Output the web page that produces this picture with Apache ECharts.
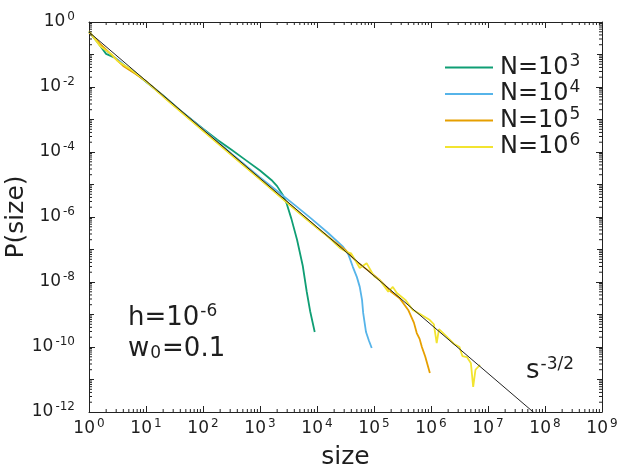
<!DOCTYPE html>
<html><head><meta charset="utf-8">
<script src="https://cdn.jsdelivr.net/npm/echarts@6/dist/echarts.min.js"></script>
<style>html,body{margin:0;padding:0;background:#fff}#c{width:625px;height:469px}</style>
</head><body><div id="c"></div>
<script>
// ---- data (log10 of size, log10 of P(size)) ----
const seriesNames = ['N=10^3', 'N=10^4', 'N=10^5', 'N=10^6'];
const legendBase = ['N=10', 'N=10', 'N=10', 'N=10'];
const legendExp = ['3', '4', '5', '6'];

const n3LogSize = [0, 0.15, 0.3, 0.45, 0.6, 0.8, 1.0, 1.3, 1.6, 2.0, 2.25, 2.5, 2.75, 3.0, 3.2, 3.3, 3.4, 3.47, 3.55, 3.65, 3.75, 3.82, 3.88, 3.96];
const n3LogP    = [-0.30, -0.62, -0.98, -1.10, -1.32, -1.55, -1.84, -2.26, -2.72, -3.28, -3.62, -3.93, -4.25, -4.57, -4.86, -5.05, -5.32, -5.6, -6.05, -6.7, -7.5, -8.3, -8.9, -9.54];

const n4LogSize = [0, 0.2, 0.4, 0.55, 0.7, 0.85, 1.0, 1.2, 1.6, 2.0, 2.5, 3.0, 3.3, 3.6, 3.9, 4.2, 4.46, 4.55, 4.63, 4.7, 4.75, 4.79, 4.81, 4.86, 4.91, 4.96];
const n4LogP    = [-0.30, -0.72, -1.02, -1.22, -1.45, -1.62, -1.83, -2.12, -2.72, -3.30, -4.05, -4.78, -5.2, -5.62, -6.05, -6.5, -6.92, -7.15, -7.54, -7.85, -8.15, -8.55, -8.95, -9.54, -9.8, -10.03];

const n5LogSize = [0, 0.2, 0.4, 0.6, 0.8, 1.0, 1.5, 2.0, 2.5, 3.0, 3.5, 4.0, 4.3, 4.5, 4.7, 4.9, 5.1, 5.3, 5.45, 5.6, 5.7, 5.75, 5.8, 5.84, 5.9, 5.98];
const n5LogP    = [-0.32, -0.68, -1.02, -1.35, -1.58, -1.82, -2.58, -3.33, -4.08, -4.83, -5.58, -6.33, -6.75, -7.02, -7.38, -7.65, -7.94, -8.3, -8.5, -8.86, -9.25, -9.57, -9.75, -10.0, -10.3, -10.8];

const n6LogSize = [0, 0.2, 0.4, 0.5, 0.7, 0.9, 1.1, 1.4, 1.8, 2.2, 2.6, 3.0, 3.4, 3.8, 4.2, 4.4, 4.52, 4.6, 4.75, 4.87, 5.0, 5.1, 5.25, 5.33, 5.4, 5.55, 5.68, 5.8, 5.98, 6.05, 6.1, 6.14, 6.28, 6.4, 6.5, 6.55, 6.63, 6.7, 6.74, 6.78, 6.86];
const n6LogP    = [-0.28, -0.75, -1.0, -1.2, -1.42, -1.68, -1.98, -2.45, -3.05, -3.65, -4.25, -4.84, -5.45, -6.05, -6.62, -6.95, -7.08, -7.12, -7.57, -7.42, -7.82, -7.94, -8.3, -8.15, -8.34, -8.55, -8.86, -8.98, -9.17, -9.3, -9.88, -9.45, -9.69, -9.9, -10.0, -10.28, -10.31, -10.5, -11.23, -10.7, -10.55];

// reference power law s^-3/2 (two end points)
const refSizes = [1, 1e8];
const refP = [0.49, 4.9e-13];

const xTickExponents = [0, 1, 2, 3, 4, 5, 6, 7, 8, 9];
const yTickExponents = [-12, -10, -8, -6, -4, -2, 0];
const minorMultipliers = [2, 3, 4, 5, 6, 7, 8, 9];

const colors = ['#0F9E74', '#56B4E9', '#E69F00', '#F2E430'];
const FONT = 'DejaVu Sans';
const INK = '#1e1e1e';

function toPairs(lx, ly) { return lx.map((v, i) => [Math.pow(10, v), Math.pow(10, ly[i])]); }
const allLogSize = [n3LogSize, n4LogSize, n5LogSize, n6LogSize];
const allLogP = [n3LogP, n4LogP, n5LogP, n6LogP];

const chart = echarts.init(document.getElementById('c'), null, { renderer: 'canvas' });

const tickRich = {
  b: { fontSize: 17, fontFamily: FONT, color: INK },
  s: { fontSize: 12, fontFamily: FONT, color: INK, padding: [0, 0, 10, 2] }
};
function expLabel(v) { return '{b|10}{s|' + Math.round(Math.log10(v)) + '}'; }

const xMin = Math.pow(10, xTickExponents[0]), xMax = Math.pow(10, xTickExponents[xTickExponents.length - 1]);
const yMin = Math.pow(10, yTickExponents[0]), yMax = Math.pow(10, yTickExponents[yTickExponents.length - 1]);

const series = seriesNames.map((name, i) => ({
  name, type: 'line', data: toPairs(allLogSize[i], allLogP[i]),
  showSymbol: false, symbol: 'none', smooth: false,
  lineStyle: { color: colors[i], width: 1.8 }, itemStyle: { color: colors[i] },
  z: 2 + i
}));
series.push({
  name: 'ref', type: 'line', data: refSizes.map((s, i) => [s, refP[i]]),
  showSymbol: false, symbol: 'none', lineStyle: { color: '#222', width: 1 }, z: 10, clip: true
});
// minor ticks on log axes (decoration)
series.push({
  type: 'custom', silent: true, data: [[1, 1]], z: 20, clip: false,
  renderItem: function (params, api) {
    const ch = [];
    const st = { stroke: '#222', lineWidth: 1 };
    for (let d = xTickExponents[0]; d < xTickExponents[xTickExponents.length - 1]; d++) {
      for (const k of minorMultipliers) {
        const v = k * Math.pow(10, d);
        const pb = api.coord([v, yMin]), pt = api.coord([v, yMax]);
        ch.push({ type: 'line', shape: { x1: pb[0], y1: pb[1], x2: pb[0], y2: pb[1] - 3 }, style: st });
        ch.push({ type: 'line', shape: { x1: pt[0], y1: pt[1], x2: pt[0], y2: pt[1] + 3 }, style: st });
      }
    }
    for (let d = yTickExponents[0]; d < yTickExponents[yTickExponents.length - 1]; d++) {
      const mults = (d % 2 !== 0) ? [1].concat(minorMultipliers) : minorMultipliers;
      for (const k of mults) {
        const v = k * Math.pow(10, d);
        const pl = api.coord([xMin, v]), pr = api.coord([xMax, v]);
        const len = k === 1 ? 5 : 3;
        ch.push({ type: 'line', shape: { x1: pl[0], y1: pl[1], x2: pl[0] + len, y2: pl[1] }, style: st });
        ch.push({ type: 'line', shape: { x1: pr[0], y1: pr[1], x2: pr[0] - len, y2: pr[1] }, style: st });
      }
    }
    return { type: 'group', children: ch };
  }
});

const axisLineStyle = { show: true, lineStyle: { color: '#222', width: 1 } };

chart.setOption({
  animation: false,
  backgroundColor: '#fff',
  grid: { left: 89, right: 23, top: 22, bottom: 57, containLabel: false, outerBoundsMode: 'none' },
  xAxis: [{
    type: 'log', logBase: 10, min: xMin, max: xMax, interval: 1,
    name: 'size', nameLocation: 'middle', nameGap: 33,
    nameTextStyle: { fontSize: 25, fontFamily: FONT, color: INK },
    axisLine: axisLineStyle, axisTick: { show: true, inside: true, length: 6, lineStyle: { color: '#222' } },
    axisLabel: { formatter: expLabel, rich: tickRich, margin: 6 },
    splitLine: { show: false }
  }, {
    type: 'log', logBase: 10, min: xMin, max: xMax, interval: 1, position: 'top',
    axisLine: axisLineStyle, axisTick: { show: true, inside: true, length: 6, lineStyle: { color: '#222' } },
    axisLabel: { show: false }, splitLine: { show: false }
  }],
  yAxis: [{
    type: 'log', logBase: 10, min: yMin, max: yMax, interval: 2,
    name: 'P(size)', nameLocation: 'middle', nameGap: 60, nameRotate: 90, nameMoveOverlap: false,
    nameTextStyle: { fontSize: 25, fontFamily: FONT, color: INK },
    axisLine: axisLineStyle, axisTick: { show: true, inside: true, length: 6, lineStyle: { color: '#222' } },
    axisLabel: { formatter: expLabel, rich: tickRich, margin: 14 },
    splitLine: { show: false }
  }, {
    type: 'log', logBase: 10, min: yMin, max: yMax, interval: 2, position: 'right',
    axisLine: axisLineStyle, axisTick: { show: true, inside: true, length: 6, lineStyle: { color: '#222' } },
    axisLabel: { show: false }, splitLine: { show: false }
  }],
  legend: {
    data: seriesNames, orient: 'vertical', left: 440, top: 48, itemGap: 0,
    itemWidth: 48, itemHeight: 2, icon: 'rect',
    formatter: function (name) { const i = seriesNames.indexOf(name); return '{b|' + legendBase[i] + '}{s|' + legendExp[i] + '}'; },
    textStyle: {
      rich: {
        b: { fontSize: 24, fontFamily: FONT, color: INK, padding: [0, 0, 0, 2] },
        s: { fontSize: 17, fontFamily: FONT, color: INK, padding: [0, 0, 12, 1] }
      }
    }
  },
  graphic: [
    { type: 'text', left: 128, top: 303, silent: true, style: { text: '{a|h=10}{s|-6}', rich: { a: { fontSize: 26, fontFamily: FONT, fill: INK }, s: { fontSize: 17, fontFamily: FONT, fill: INK, padding: [0, 0, 14, 1] } } } },
    { type: 'text', left: 128, top: 336, silent: true, style: { text: '{a|w}{u|0}{a|=0.1}', rich: { a: { fontSize: 26, fontFamily: FONT, fill: INK }, u: { fontSize: 17, fontFamily: FONT, fill: INK, padding: [10, 1, 0, 1] } } } },
    { type: 'text', left: 526, top: 356, silent: true, style: { text: '{a|s}{s|-3/2}', rich: { a: { fontSize: 26, fontFamily: FONT, fill: INK }, s: { fontSize: 17, fontFamily: FONT, fill: INK, padding: [0, 0, 14, 1] } } } }
  ],
  series
});
</script></body></html>
